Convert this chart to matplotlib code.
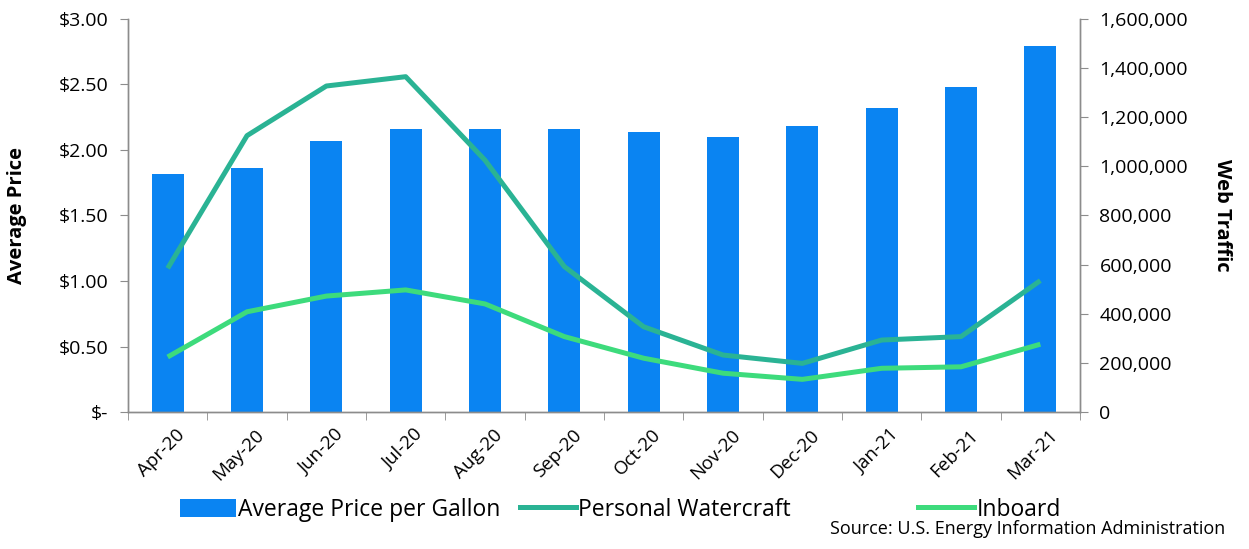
import numpy as np
import matplotlib
matplotlib.use("Agg")
import matplotlib.pyplot as plt
import matplotlib.transforms as mtransforms
from matplotlib.ticker import FuncFormatter, FixedLocator
from matplotlib.patches import Patch
from matplotlib.lines import Line2D

plt.rcParams['font.family'] = ['Open Sans', 'DejaVu Sans']

# -----------------------------
# Data
# -----------------------------
months = ['Apr-20', 'May-20', 'Jun-20', 'Jul-20', 'Aug-20', 'Sep-20',
          'Oct-20', 'Nov-20', 'Dec-20', 'Jan-21', 'Feb-21', 'Mar-21']
avg_price = [1.82, 1.86, 2.07, 2.16, 2.16, 2.16, 2.14, 2.10, 2.18, 2.32, 2.48, 2.79]
personal_watercraft = [585000, 1125000, 1327000, 1365000, 1025000, 592000,
                       347000, 232000, 198000, 293000, 307000, 535000]
inboard = [224000, 408000, 472000, 497000, 440000, 307000,
           219000, 158000, 133000, 178000, 184000, 276000]

bar_color = '#0A84F2'
pw_color = '#2AB394'
inb_color = '#3DDB7C'
spine_color = '#8C8C8C'

fig = plt.figure(figsize=(12.49, 5.49), dpi=100)
ax = fig.add_axes([0.1025, 0.2495, 0.7622, 0.716])
ax2 = ax.twinx()

x = np.arange(len(months))
ax.bar(x, avg_price, width=0.4, color=bar_color, zorder=2)
ax2.plot(x, personal_watercraft, color=pw_color, linewidth=3.6, solid_capstyle='butt')
ax2.plot(x, inboard, color=inb_color, linewidth=3.6, solid_capstyle='butt')

# left axis
ax.set_xlim(-0.5, 11.5)
ax.set_ylim(0, 3.0)
ax.set_yticks(np.arange(0, 3.01, 0.5))
ax.yaxis.set_major_formatter(FuncFormatter(lambda v, p: '$-' if v == 0 else f'${v:.2f}'))
ax.set_ylabel('Average Price', fontsize=14.5, fontweight='bold', va='center')
ax.yaxis.set_label_coords(-0.1166, 0.5)

# right axis
ax2.set_ylim(0, 1600000)
ax2.set_yticks(np.arange(0, 1600001, 200000))
ax2.yaxis.set_major_formatter(FuncFormatter(lambda v, p: f'{int(v):,}'))
ax2.set_ylabel('Web Traffic', fontsize=14.5, fontweight='bold', rotation=-90, va='center')
ax2.yaxis.set_label_coords(1.149, 0.5)

# x ticks: labels at centres, tick marks between categories
ax.set_xticks(x)
ax.set_xticklabels(months, rotation=45, ha='right', rotation_mode='anchor', fontsize=13.5)
ax.tick_params(axis='x', which='major', length=0, pad=10)
ax.xaxis.set_minor_locator(FixedLocator(np.arange(-0.5, 12, 1)))
ax.tick_params(axis='x', which='minor', length=6, color=spine_color)
shift = mtransforms.ScaledTranslation(8 / 100, 0, fig.dpi_scale_trans)
for lbl in ax.get_xticklabels():
    lbl.set_transform(lbl.get_transform() + shift)

ax.tick_params(axis='y', labelsize=14, length=6, color=spine_color, pad=8)
ax2.tick_params(axis='y', labelsize=14, length=6, color=spine_color, pad=8)

for a in (ax, ax2):
    a.spines['top'].set_visible(False)
    for s in ('left', 'right', 'bottom'):
        a.spines[s].set_color(spine_color)
        a.spines[s].set_linewidth(1.0)

# legend along the bottom, one entry per slot like the original
handles = [Patch(facecolor=bar_color, edgecolor='none'),
           Line2D([0], [0], color=pw_color, linewidth=3.6),
           Line2D([0], [0], color=inb_color, linewidth=3.6)]
labels = ['Average Price per Gallon', 'Personal Watercraft', 'Inboard']
slots = [0.1441, 0.4163, 0.735]
for h, l, sx in zip(handles, labels, slots):
    fig.legend([h], [l], loc='center left', bbox_to_anchor=(sx, 0.071),
               frameon=False, fontsize=16.5, handlelength=2.45, handletextpad=0.1,
               borderpad=0, borderaxespad=0, handleheight=0.85)

fig.text(0.981, 0.02, 'Source: U.S. Energy Information Administration',
         ha='right', va='bottom', fontsize=13)

fig.savefig('out.png', dpi=100)
